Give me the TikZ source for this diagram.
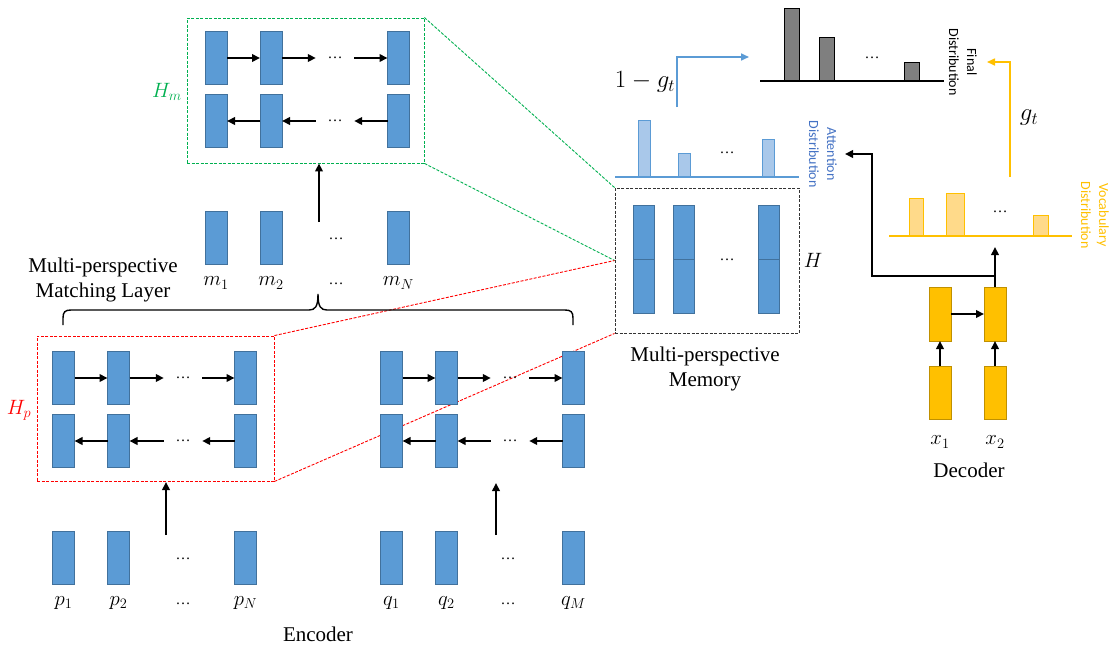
\documentclass[tikz,border=0pt]{standalone}
\usepackage{fontspec}
\setmainfont{Liberation Serif}
\newfontfamily\carl{Carlito}
\usetikzlibrary{arrows.meta}
\definecolor{cellblue}{HTML}{5B9BD5}
\definecolor{cellline}{HTML}{41719C}
\definecolor{gold}{HTML}{FFC000}
\definecolor{goldline}{HTML}{C09000}
\definecolor{zgreen}{HTML}{00B050}
\definecolor{zred}{HTML}{FF0000}
\definecolor{attblue}{HTML}{4472C4}
\definecolor{attfill}{HTML}{A9C8EA}
\definecolor{vocfill}{HTML}{FFDA8A}
\definecolor{finfill}{HTML}{7F7F7F}
\tikzset{
 cell/.style={rectangle, draw=cellline, fill=cellblue, line width=0.8pt, minimum width=22pt, minimum height=53pt, inner sep=0pt, outer sep=0pt},
 ocell/.style={cell, draw=goldline, fill=gold},
 dotsnode/.style={inner sep=0pt, minimum width=38pt, font=\fontsize{15}{15}\selectfont},
 arr/.style={line width=2pt, -{Triangle[length=8pt,width=7.5pt]}},
 lbl/.style={font=\fontsize{21}{25}\selectfont, align=center, inner sep=0pt},
 mlbl/.style={font=\fontsize{20}{24}\selectfont, inner sep=0pt},
 zoomline/.style={line width=0.9pt, dash pattern=on 3pt off 1.5pt},
 sidelbl/.style={rotate=-90, align=center, inner sep=0pt, font=\carl\fontsize{14}{18}\selectfont},
 attbar/.style={rectangle, anchor=south, draw=cellblue, line width=0.9pt, fill=attfill, minimum width=12pt, inner sep=0pt},
 finbar/.style={rectangle, anchor=south, draw=black, line width=1pt, fill=finfill, minimum width=15pt, inner sep=0pt},
 vocbar/.style={rectangle, anchor=south, draw=gold, line width=1pt, fill=vocfill, minimum width=14pt, inner sep=0pt},
}
\newcommand\BiLayer[7]{%
 \node[cell] (#1a1) at (#2,#6) {};
 \node[cell] (#1a2) at (#3,#6) {};
 \node[cell] (#1a3) at (#4,#6) {};
 \node[dotsnode] (#1ad) at (#5,#6) {…};
 \node[cell] (#1b1) at (#2,#7) {};
 \node[cell] (#1b2) at (#3,#7) {};
 \node[cell] (#1b3) at (#4,#7) {};
 \node[dotsnode] (#1bd) at (#5,#7) {…};
 \draw[arr] (#1a1.east) -- (#1a2.west);
 \draw[arr] (#1a2.east) -- (#1ad.west);
 \draw[arr] (#1ad.east) -- (#1a3.west);
 \draw[arr] (#1b2.west) -- (#1b1.east);
 \draw[arr] (#1bd.west) -- (#1b2.east);
 \draw[arr] (#1b3.west) -- (#1bd.east);
}
\begin{document}
\begin{tikzpicture}[x=1pt,y=-1pt]
\useasboundingbox[fill=white] (0,0) rectangle (1112,648);

% ---------- zoom boxes ----------
\node[draw=zgreen, zoomline, minimum width=237pt, minimum height=145pt, inner sep=0pt] (Hm) at (305.5,90.5) {};
\node[draw=zred, zoomline, minimum width=237pt, minimum height=145pt, inner sep=0pt] (Hp) at (155.5,408.5) {};
\node[draw=black!80, zoomline, minimum width=184pt, minimum height=145pt, inner sep=0pt] (Mem) at (707,260.5) {};
\draw[zoomline, zgreen] (Hm.north east) -- (Mem.north west);
\draw[zoomline, zgreen] (Hm.south east) -- (Mem.west);
\draw[zoomline, zred] (Hp.north east) -- (Mem.west);
\draw[zoomline, zred] (Hp.south east) -- (Mem.south west);

\node[font=\fontsize{22}{22}\selectfont, text=zgreen, inner sep=0pt] (Hmlbl) at (167,92) {$H_m$};
\node[font=\fontsize{22}{22}\selectfont, text=zred, inner sep=0pt] (Hplbl) at (19,410) {$H_p$};

% ---------- bidirectional layers ----------
\BiLayer{hm}{216}{271}{398.5}{335}{58}{121}
\BiLayer{hp}{63.5}{118.5}{245.5}{183}{378}{441}
\BiLayer{hq}{391.5}{446.5}{573.5}{510}{378}{441}

% ---------- matching layer ----------
\node[cell] (m1) at (216,237.5) {};
\node[cell] (m2) at (271,237.5) {};
\node[cell] (mN) at (398.5,237.5) {};
\node[dotsnode] (md) at (336,239) {…};
\node[mlbl] (m1l) at (216,283) {$m_1$};
\node[mlbl] (m2l) at (271,283) {$m_2$};
\node[dotsnode] (mdl) at (336,284) {…};
\node[mlbl] (mNl) at (398.5,283) {$m_N$};
\coordinate (ma) at (319,222);
\draw[arr] (ma) -- (ma |- Hm.south);
\node[lbl] (mlayer) at (103,280) {Multi-perspective\\Matching Layer};
\coordinate (brL) at (63,325);
\coordinate (brM) at (318,294);
\coordinate (brR) at (573,325);
\draw[line width=1.4pt] (brL) -- (63,318) .. controls (63,312) and (65,310) .. (71,310)
  -- (309,310) .. controls (315,310) and (318,307) .. (brM)
  .. controls (318,307) and (321,310) .. (327,310)
  -- (565,310) .. controls (571,310) and (573,312) .. (573,318) -- (brR);

% ---------- encoder inputs ----------
\node[cell] (p1) at (63.5,557.5) {};
\node[cell] (p2) at (118.5,557.5) {};
\node[cell] (pN) at (245.5,557.5) {};
\node[dotsnode] (pd) at (183,559) {…};
\node[cell] (q1) at (391.5,557.5) {};
\node[cell] (q2) at (446.5,557.5) {};
\node[cell] (qM) at (573.5,557.5) {};
\node[dotsnode] (qd) at (508,559) {…};
\node[mlbl] (p1l) at (63.5,603) {$p_1$};
\node[mlbl] (p2l) at (118.5,603) {$p_2$};
\node[dotsnode] (pdl) at (183,604) {…};
\node[mlbl] (pNl) at (245.5,603) {$p_N$};
\node[mlbl] (q1l) at (391.5,603) {$q_1$};
\node[mlbl] (q2l) at (446.5,603) {$q_2$};
\node[dotsnode] (qdl) at (508,604) {…};
\node[mlbl] (qMl) at (573.5,603) {$q_M$};
\coordinate (pa) at (166,535);
\draw[arr] (pa) -- (166,482);
\coordinate (qa) at (496,535);
\draw[arr] (qa) -- (496,483);
\node[lbl] (enc) at (318,634) {Encoder};

% ---------- memory ----------
\node[cell, minimum width=21pt, minimum height=108pt] (mc1) at (643.5,259) {};
\node[cell, minimum width=21pt, minimum height=108pt] (mc2) at (683.5,259) {};
\node[cell, minimum width=21pt, minimum height=108pt] (mc3) at (768.5,259) {};
\draw[cellline, line width=0.8pt] (mc1.west) -- (mc1.east);
\draw[cellline, line width=0.8pt] (mc2.west) -- (mc2.east);
\draw[cellline, line width=0.8pt] (mc3.west) -- (mc3.east);
\node[dotsnode] (mcd) at (727,260) {…};
\node[mlbl, font=\fontsize{21}{21}\selectfont] (Hlbl) at (813,260) {$H$};
\node[lbl] (memlbl) at (705,369) {Multi-perspective\\Memory};

% ---------- attention distribution ----------
\coordinate (attL) at (615,177);
\coordinate (attR) at (799,177);
\draw[cellblue, line width=1.3pt] (attL) -- (attR);
\node[attbar, minimum height=56pt] (ab1) at (644,177) {};
\node[attbar, minimum height=23pt] (ab2) at (684,177) {};
\node[attbar, minimum height=37pt] (ab3) at (768,177) {};
\node[dotsnode] (abd) at (727,153) {…};
\node[sidelbl, text=attblue] (attlbl) at (823,154) {Attention\\Distribution};

% ---------- final distribution ----------
\coordinate (finL) at (760,81);
\coordinate (finR) at (944,81);
\draw[black, line width=1.3pt] (finL) -- (finR);
\node[finbar, minimum height=72pt] (fb1) at (791.5,81) {};
\node[finbar, minimum height=43pt] (fb2) at (826.5,81) {};
\node[finbar, minimum height=18pt] (fb3) at (911.5,81) {};
\node[dotsnode] (fbd) at (872,58) {…};
\node[sidelbl, text=black] (finlbl) at (963,62) {Final\\Distribution};

% ---------- vocabulary distribution ----------
\coordinate (vocL) at (889,236);
\coordinate (vocR) at (1072,236);
\draw[gold, line width=1.5pt] (vocL) -- (vocR);
\node[vocbar, minimum height=37pt] (vb1) at (916,236) {};
\node[vocbar, minimum width=18pt, minimum height=42pt] (vb2) at (955,236) {};
\node[vocbar, minimum width=15pt, minimum height=20pt] (vb3) at (1040.5,236) {};
\node[dotsnode] (vbd) at (1000,212) {…};
\node[sidelbl, text=gold] (voclbl) at (1095,215) {Vocabulary\\Distribution};

% ---------- gates ----------
\coordinate (gbs) at (677,107);
\coordinate (gbe) at (749,57);
\draw[cellblue, line width=1.6pt, -{Triangle[length=8pt,width=7pt]}] (gbs) |- (gbe);
\node[font=\fontsize{23}{23}\selectfont, inner sep=0pt] (g1) at (645,82) {$1-g_t$};
\coordinate (gos) at (1010,177);
\coordinate (goe) at (987,62);
\draw[gold, line width=1.6pt, -{Triangle[length=8pt,width=7pt]}] (gos) |- (goe);
\node[font=\fontsize{23}{23}\selectfont, inner sep=0pt] (g2) at (1029,118) {$g_t$};

% ---------- decoder ----------
\node[ocell, minimum height=54pt] (d1t) at (940,314) {};
\node[ocell, minimum height=54pt] (d2t) at (995,314) {};
\node[ocell] (d1b) at (940,392.5) {};
\node[ocell] (d2b) at (995,392.5) {};
\draw[arr] (d1t.east) -- (d2t.west);
\draw[arr] (d1b.north) -- (d1t.south);
\draw[arr] (d2b.north) -- (d2t.south);
\node[mlbl] (x1l) at (940,442) {$x_1$};
\node[mlbl] (x2l) at (995,442) {$x_2$};
\node[lbl] (dec) at (969,470) {Decoder};
\coordinate (vin) at (995,247);
\draw[arr] (d2t.north) -- (vin);
\coordinate (jn) at (995,276);
\coordinate (ain) at (845,154);
\draw[arr] (jn) -- (872,276) -- (872,154) -- (ain);
\end{tikzpicture}
\end{document}
